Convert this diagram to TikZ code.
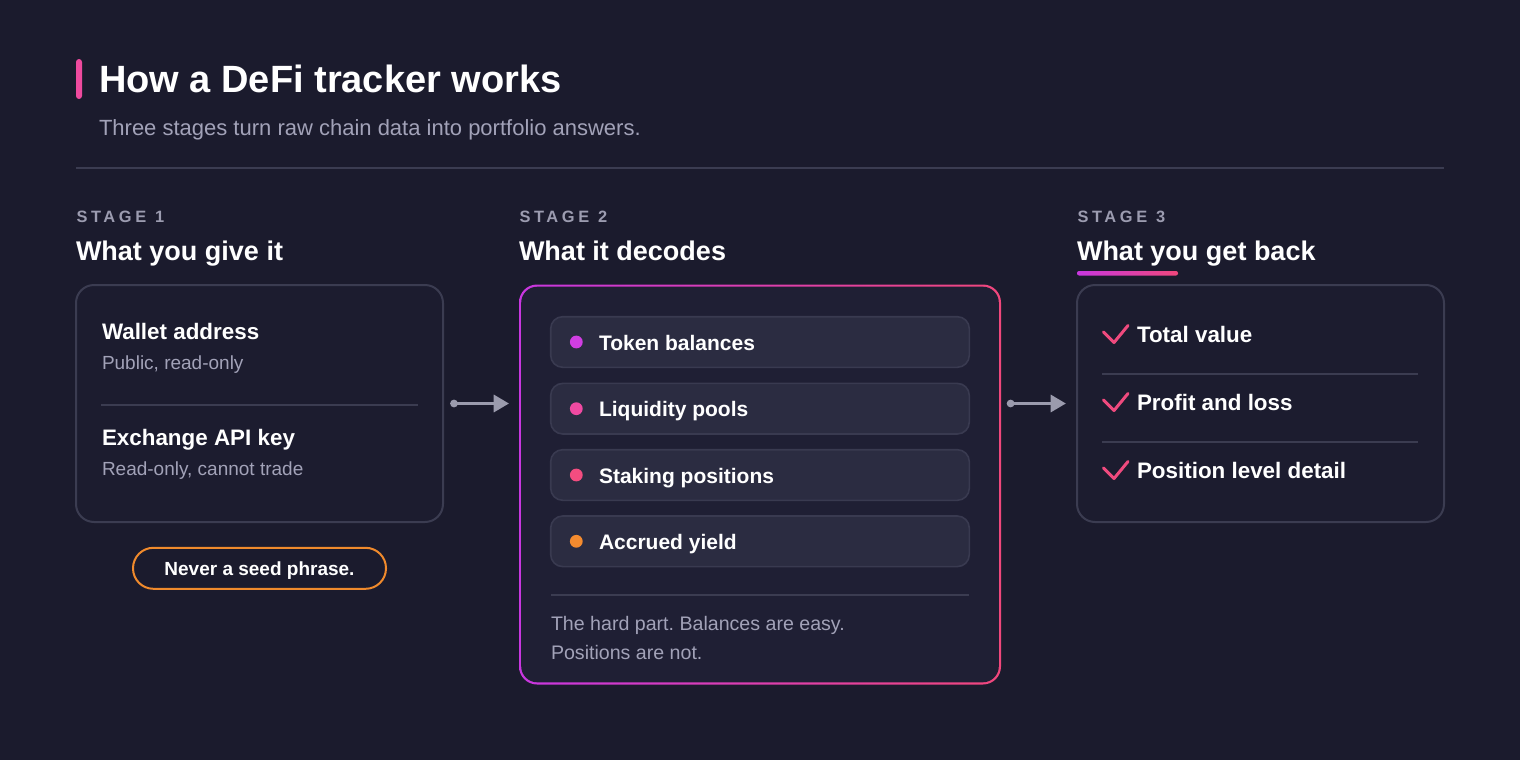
\documentclass[tikz,border=0pt]{standalone}
\usepackage{fontspec}
\setmainfont{Liberation Sans}
\newfontfamily\stagefont[LetterSpace=22]{Liberation Sans}
\usetikzlibrary{arrows.meta,calc}
\frenchspacing
\definecolor{bg}{HTML}{1B1B2D}
\definecolor{cardfill}{HTML}{1C1C2F}
\definecolor{midfill}{HTML}{1F1F34}
\definecolor{cardline}{HTML}{3B3C51}
\definecolor{pillfill}{HTML}{2B2C41}
\definecolor{pillline}{HTML}{393A50}
\definecolor{grey}{HTML}{A2A2B8}
\definecolor{stagegrey}{HTML}{9C9CB0}
\definecolor{arrowgrey}{HTML}{9B9BAD}
\definecolor{accent}{HTML}{EE4A9E}
\definecolor{purp}{HTML}{C837E0}
\definecolor{pink}{HTML}{F0477C}
\definecolor{dotA}{HTML}{D03EE2}
\definecolor{dotB}{HTML}{F04AA2}
\definecolor{dotC}{HTML}{F34D80}
\definecolor{dotD}{HTML}{F48B2F}
\definecolor{orng}{HTML}{F08A2C}
\definecolor{checkc}{HTML}{EF4A7E}
\tikzset{
  txt/.style={anchor=base west, inner sep=0pt, outer sep=0pt},
  titlef/.style={txt, text=white, font=\bfseries\fontsize{19}{22}\selectfont},
  subf/.style={txt, text=grey, font=\fontsize{11}{13}\selectfont},
  stagef/.style={txt, text=stagegrey, font=\stagefont\bfseries\fontsize{8.2}{10}\selectfont},
  headf/.style={txt, text=white, font=\bfseries\fontsize{13.5}{16}\selectfont},
  itemf/.style={txt, text=white, font=\bfseries\fontsize{11.2}{13}\selectfont},
  smallf/.style={txt, text=grey, font=\fontsize{9.5}{11}\selectfont},
  pillf/.style={txt, text=white, font=\bfseries\fontsize{10.5}{12}\selectfont},
  footf/.style={txt, text=grey, font=\fontsize{9.8}{12}\selectfont},
  card/.style={draw=cardline, fill=cardfill, line width=1pt, rounded corners=9pt, inner sep=0pt, minimum width=183.5pt, minimum height=118.5pt},
  midcard/.style={left color=purp, right color=pink, rounded corners=9pt, inner sep=0pt, minimum width=241pt, minimum height=200pt},
  pillbox/.style={draw=pillline, fill=pillfill, line width=0.8pt, rounded corners=6pt, inner sep=0pt, minimum width=209.3pt, minimum height=25.3pt},
  divider/.style={draw=cardline, line width=0.8pt},
  conn/.style={draw=arrowgrey, line width=1.1pt, {Circle[length=3.8pt]}-{Triangle[length=7.6pt,width=8.7pt]}},
  checkmark/.style={draw=checkc, line width=1.5pt, line cap=round, line join=round},
}
\begin{document}
\begin{tikzpicture}[x=0.5pt,y=-0.5pt]
\fill[bg] (0,0) rectangle (1520,760);
\useasboundingbox (0,0) rectangle (1520,760);

% header
\fill[accent, rounded corners=1.5pt] (76,59) rectangle (82,99);
\node[titlef] (title) at (99,92) {How a DeFi tracker works};
\node[subf] (subtitle) at (99,135) {Three stages turn raw chain data into portfolio answers.};
\draw[divider, line width=1pt] (76,167.5) -- (1444,167.5);

% stage labels
\node[stagef] (s1) at (76.5,222) {STAGE\hspace{0.55em}1};
\node[stagef] (s2) at (519.5,222) {STAGE\hspace{0.55em}2};
\node[stagef] (s3) at (1077.5,222) {STAGE\hspace{0.55em}3};
\node[headf] (h1) at (76,260) {What you give it};
\node[headf] (h2) at (519,260) {What it decodes};
\node[headf] (h3) at (1077,260) {What you get back};
\shade[left color=purp, right color=pink, rounded corners=1pt] (1077,271) rectangle (1178,275.5);

% card 1
\node[card] (card1) at (259.5,403.5) {};
\node[itemf] (w1) at (102,339) {Wallet address};
\node[smallf] (w2) at (102,369) {Public, read-only};
\draw[divider] (101,405) -- (418,405);
\node[itemf] (e1) at (102,445.5) {Exchange API key};
\node[smallf] (e2) at (102,475.5) {Read-only, cannot trade};
\node[draw=orng, line width=1pt, rounded corners=10.2pt, inner sep=0pt, minimum width=126.5pt, minimum height=20.5pt] (seed) at (259.5,568.3) {};
\node[anchor=base, inner sep=0pt, text=white, font=\bfseries\fontsize{9.5}{11}\selectfont] (seedtxt) at ($(seed.center)+(0,6.8)$) {Never a seed phrase.};

% card 2
\node[midcard] (card2) at (760,484.5) {};
\fill[midfill, rounded corners=8pt] ($(card2.south west)+(2.6,-2.6)$) rectangle ($(card2.north east)+(-2.6,2.6)$);
\node[pillbox] (p1) at (760,342) {};
\node[pillbox] (p2) at (760,408.7) {};
\node[pillbox] (p3) at (760,475) {};
\node[pillbox] (p4) at (760,541.3) {};
\fill[dotA] (576.3,342) circle[radius=3.2pt];
\fill[dotB] (576.3,408.7) circle[radius=3.2pt];
\fill[dotC] (576.3,475) circle[radius=3.2pt];
\fill[dotD] (576.3,541.3) circle[radius=3.2pt];
\node[pillf] (t1) at (599,350) {Token balances};
\node[pillf] (t2) at (599,416.7) {Liquidity pools};
\node[pillf] (t3) at (599,483) {Staking positions};
\node[pillf] (t4) at (599,549.3) {Accrued yield};
\draw[divider] (551,595) -- (969,595);
\node[footf] (f1) at (551,630.7) {The hard part. Balances are easy.};
\node[footf] (f2) at (551,659) {Positions are not.};

% card 3
\node[card] (card3) at (1260.5,403.5) {};
\draw[checkmark] (1103.5,332) -- (1114,342.5) -- (1128,325.5);
\draw[checkmark] (1103.5,400) -- (1114,410.5) -- (1128,393.5);
\draw[checkmark] (1103.5,468) -- (1114,478.5) -- (1128,461.5);
\node[itemf] (r1) at (1137,342.5) {Total value};
\node[itemf] (r2) at (1137,410.5) {Profit and loss};
\node[itemf] (r3) at (1137,478.5) {Position level detail};
\draw[divider] (1102,373.7) -- (1418,373.7);
\draw[divider] (1102,441.7) -- (1418,441.7);

% connectors
\draw[conn, shorten <=3.1pt, shorten >=4.85pt] (card1.east) -- (card1.east -| card2.west);
\draw[conn, shorten <=2.7pt, shorten >=5.1pt] (card2.east |- card3.west) -- (card3.west);
\end{tikzpicture}
\end{document}
